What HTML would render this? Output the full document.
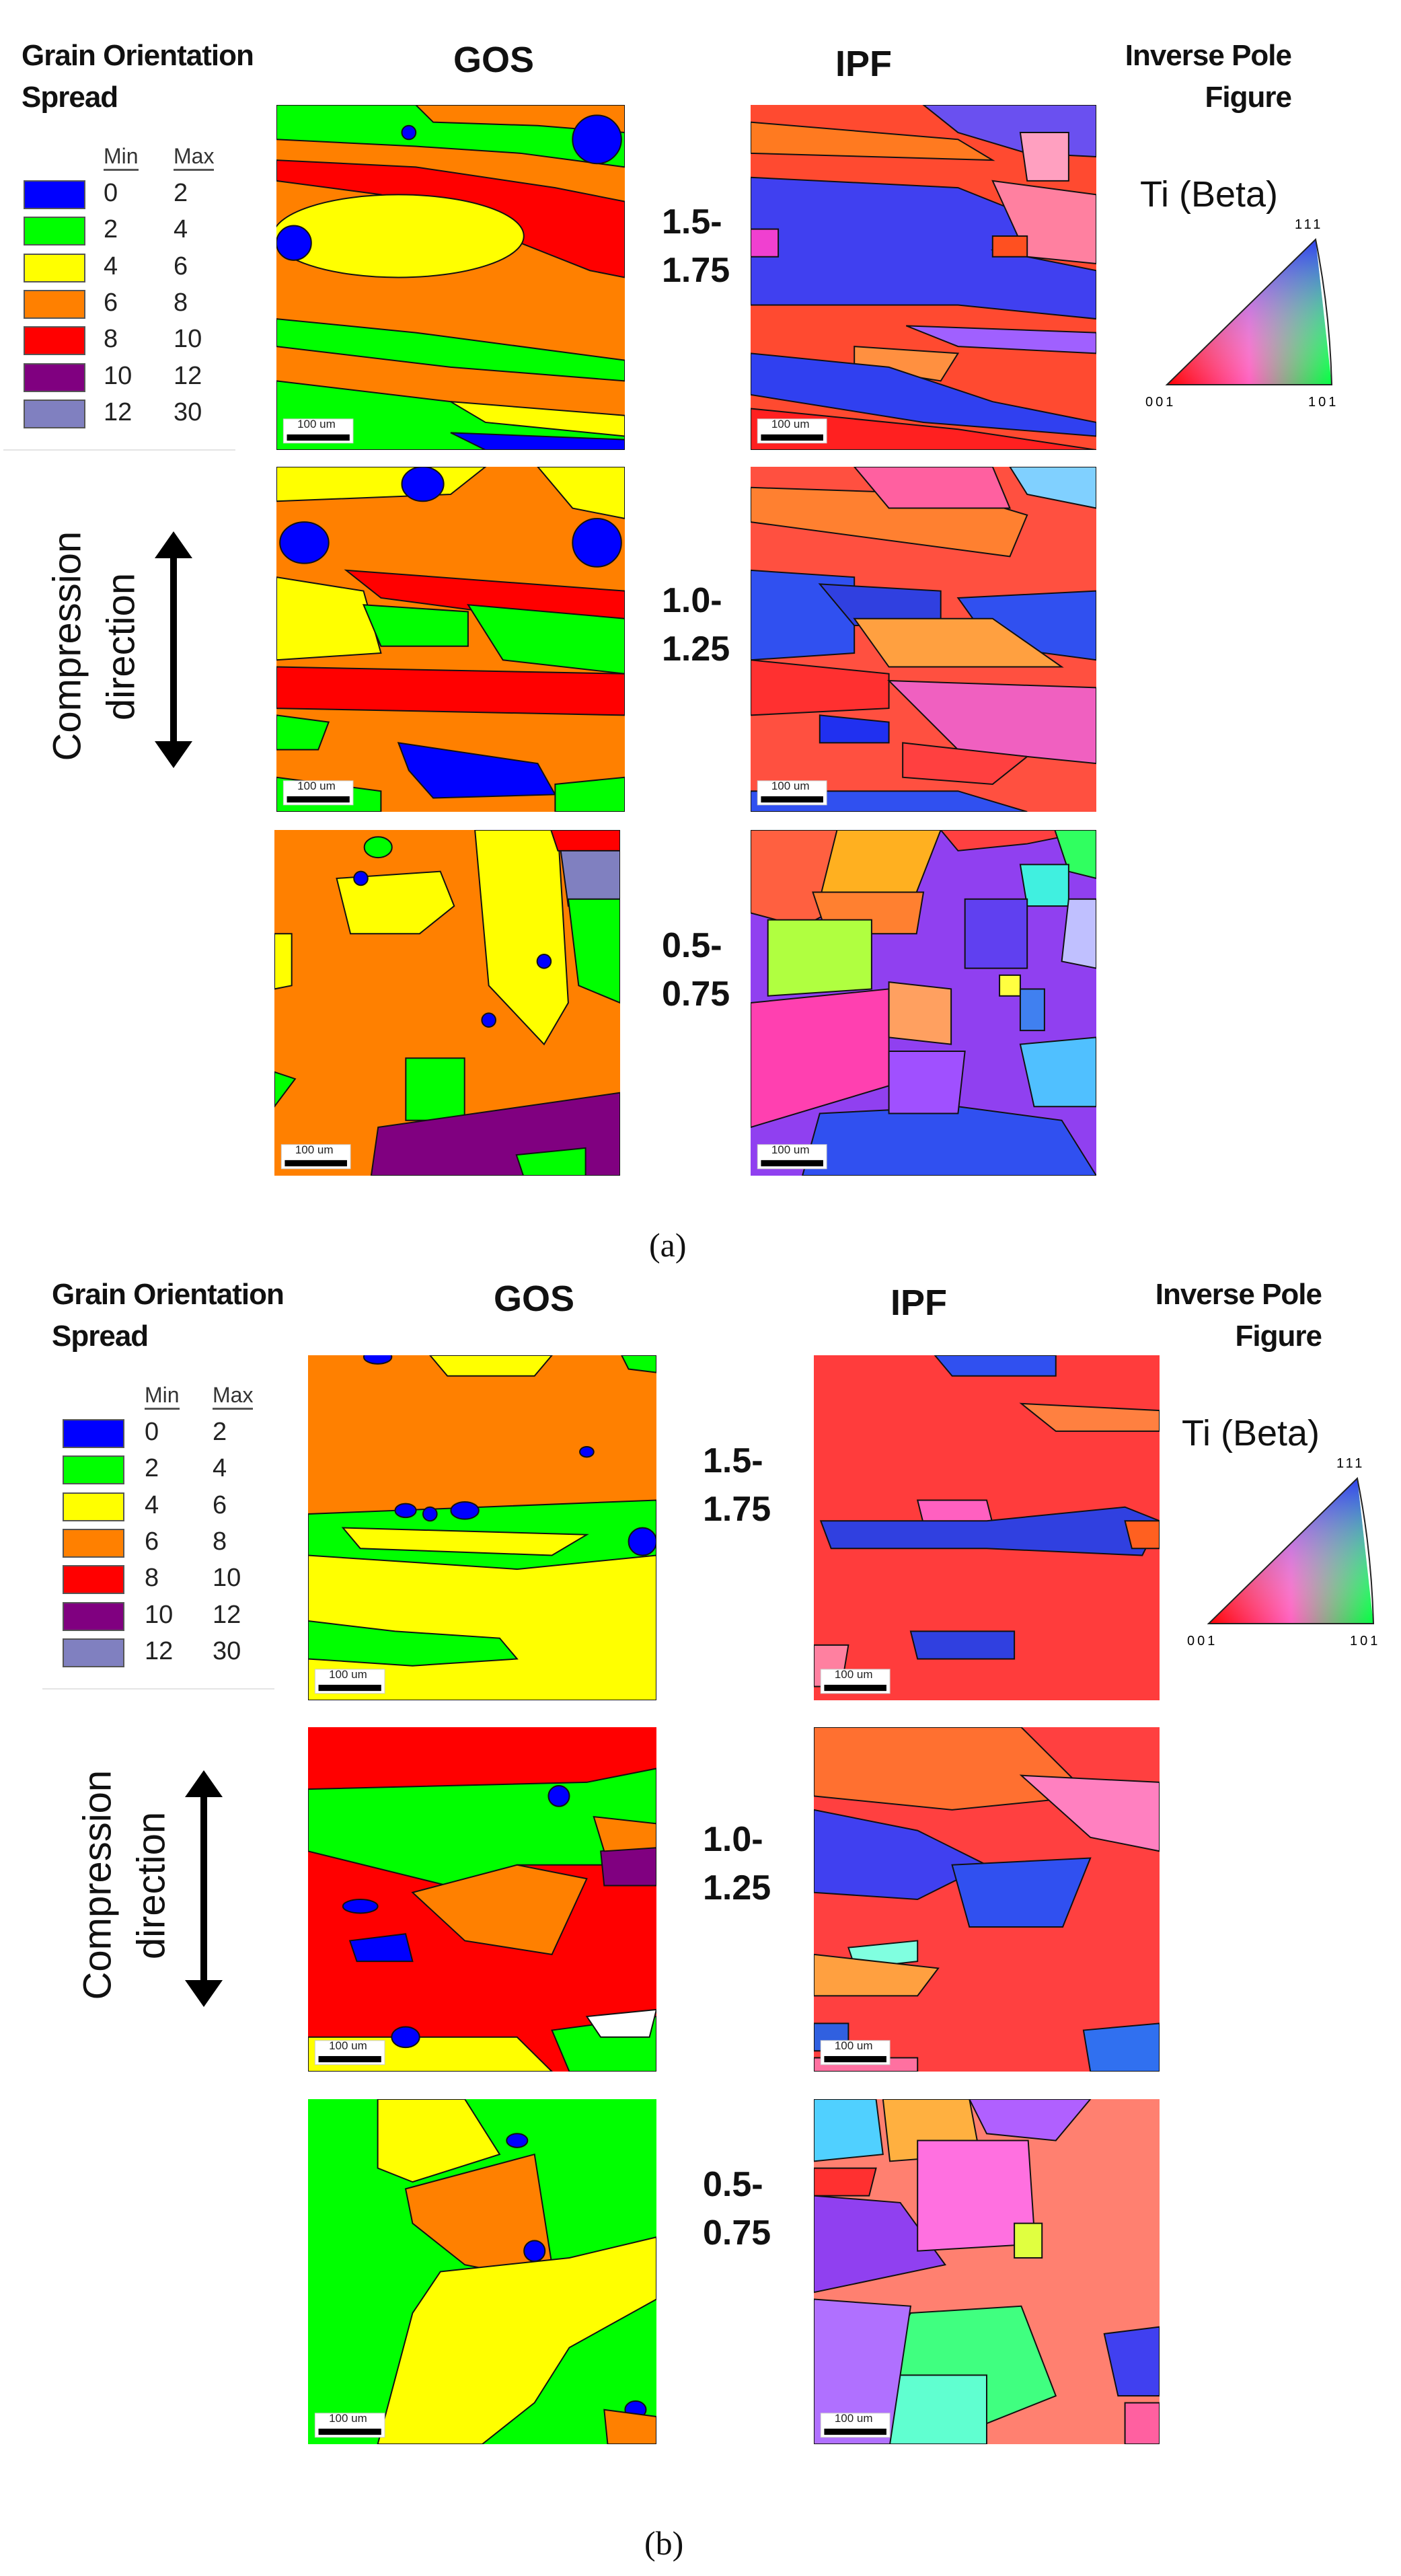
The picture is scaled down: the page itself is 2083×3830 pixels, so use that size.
<!DOCTYPE html>
<html><head><meta charset="utf-8">
<style>
html,body{margin:0;padding:0;background:#fff;}
body{width:2083px;height:3830px;position:relative;overflow:hidden;font-family:"Liberation Sans",sans-serif;}
.t{position:absolute;white-space:nowrap;color:#111;}
.b{font-weight:bold;}
svg.p{position:absolute;}
.sw{position:absolute;width:92px;height:43px;border:2px solid #555;box-sizing:border-box;}
.rot{position:absolute;transform:rotate(-90deg);transform-origin:center center;font-size:58px;white-space:nowrap;text-align:center;}
</style></head>
<body>
<div id="root"></div>
<script>
const panels = [
 {id:'a-gos-1',x:411,y:156,w:518,h:513,bg:'#ff8000',s:[
  ['#00ff00','0,0 100,0 100,18 70,14 40,12 0,10'],['#ff8000','40,0 100,0 100,8 75,6 45,5'],
  ['#ff0000','0,16 40,18 80,24 100,28 100,50 90,48 60,36 30,26 0,22'],
  ['e','#ffff00',35,38,36,12],['#00ff00','0,62 40,66 100,74 100,80 50,76 0,70'],
  ['#00ff00','0,80 50,86 100,92 100,100 0,100'],['#ffff00','50,86 100,90 100,96 60,92'],
  ['e','#0000ff',92,10,7,7],['e','#0000ff',5,40,5,5],['#0000ff','50,95 100,97 100,100 60,100'],['e','#0000ff',38,8,2,2]]},
 {id:'a-gos-2',x:411,y:694,w:518,h:513,bg:'#ff8000',s:[
  ['#ffff00','0,0 60,0 50,8 0,10'],['#ffff00','75,0 100,0 100,15 85,12'],['e','#0000ff',42,5,6,5],['e','#0000ff',92,22,7,7],
  ['e','#0000ff',8,22,7,6],['#ff0000','20,30 100,36 100,45 60,42 30,38'],['#ffff00','0,32 25,36 30,54 0,56'],
  ['#00ff00','25,40 55,42 55,52 30,52'],['#00ff00','55,40 100,44 100,60 65,56'],['#ff0000','0,58 100,60 100,72 0,70'],
  ['#00ff00','0,72 15,74 12,82 0,82'],['#0000ff','35,80 75,86 80,95 45,96 38,88'],['#00ff00','80,92 100,90 100,100 80,100'],['#00ff00','0,90 30,94 30,100 0,100']]},
 {id:'a-gos-3',x:408,y:1234,w:514,h:514,bg:'#ff8000',s:[
  ['#ffff00','58,0 82,0 85,50 78,62 62,45'],['#8080c0','82,0 100,0 100,20 85,22'],['#00ff00','85,20 100,20 100,50 88,45'],
  ['#ffff00','18,14 48,12 52,22 42,30 22,30'],['#00ff00','38,66 55,66 55,84 38,84'],['#800080','30,86 100,76 100,100 28,100'],
  ['#00ff00','70,94 90,92 90,100 72,100'],['#ffff00','0,30 5,30 5,45 0,46'],['#00ff00','0,70 6,72 0,80'],
  ['e','#0000ff',25,14,2,2],['e','#0000ff',62,55,2,2],['e','#0000ff',78,38,2,2],['e','#00ff00',30,5,4,3],['#ff0000','80,0 100,0 100,6 82,6']]},
 {id:'a-ipf-1',x:1116,y:156,w:514,h:513,bg:'#ff4a30',s:[
  ['#ff7a20','0,5 60,10 70,16 0,14'],['#6a50f0','50,0 100,0 100,15 80,14 60,8'],['#ffa0c0','78,8 92,8 92,22 80,22'],
  ['#4040f0','0,21 60,24 85,34 70,42 100,48 100,62 60,58 0,58'],['#f040d0','0,36 8,36 8,44 0,44'],['#ff80a0','70,22 100,26 100,46 80,44'],
  ['#ff5020','70,38 80,38 80,44 70,44'],['#a060ff','45,64 100,66 100,72 60,70'],['#ff9040','30,70 60,72 55,80 30,76'],
  ['#3040f0','0,72 40,76 70,86 100,92 100,96 50,92 0,84'],['#ff2020','0,88 60,94 100,100 0,100']]},
 {id:'a-ipf-2',x:1116,y:694,w:514,h:513,bg:'#ff5040',s:[
  ['#ff8030','0,6 60,8 80,14 75,26 0,16'],['#ff60a0','30,0 70,0 75,12 40,12'],['#80d0ff','75,0 100,0 100,12 80,8'],
  ['#3050f0','0,30 30,32 30,54 0,56'],['#3040e0','20,34 55,36 55,46 30,46'],['#3050f0','60,38 100,36 100,56 70,52'],
  ['#ffa040','30,44 70,44 90,58 40,58'],['#ff3030','0,56 40,60 40,70 0,72'],['#f060c0','40,62 100,64 100,86 60,82'],
  ['#2030f0','20,72 40,74 40,80 20,80'],['#ff4040','44,80 80,84 70,92 44,90'],['#3050f0','0,94 60,94 80,100 0,100']]},
 {id:'a-ipf-3',x:1116,y:1234,w:514,h:514,bg:'#9040f0',s:[
  ['#ff6040','0,0 25,0 30,20 15,28 0,24'],['#ffb020','25,0 55,0 48,18 20,20'],['#ff4040','55,0 100,0 80,4 60,6'],['#30ff60','88,0 100,0 100,14 92,12'],
  ['#40f0e0','78,10 92,10 92,22 80,22'],['#c0c0ff','92,20 100,20 100,40 90,38'],['#ff8030','18,18 50,18 48,30 22,30'],
  ['#b0ff40','5,26 35,26 35,46 5,48'],['#ff40b0','0,50 40,46 40,74 0,86'],['#ffa060','40,44 58,46 58,62 40,60'],
  ['#6040f0','62,20 80,20 80,40 62,40'],['#ffff40','72,42 78,42 78,48 72,48'],['#4080f0','78,46 85,46 85,58 78,58'],
  ['#3050f0','20,82 60,80 90,84 100,100 15,100'],['#50c0ff','78,62 100,60 100,80 82,80'],['#a050ff','40,64 62,64 60,82 40,82']]},
 {id:'b-gos-1',x:458,y:2015,w:518,h:513,bg:'#ff8000',s:[
  ['#ffff00','0,50 100,48 100,100 0,100'],['#00ff00','0,46 100,42 100,58 60,62 0,58'],['#ffff00','10,50 80,52 70,58 15,56'],
  ['#00ff00','0,77 25,80 55,82 60,88 30,90 0,88'],['#ffff00','35,0 70,0 65,6 40,6'],['#00ff00','90,0 100,0 100,5 92,4'],
  ['e','#0000ff',28,45,3,2],['e','#0000ff',45,45,4,2.5],['e','#0000ff',35,46,2,2],['e','#0000ff',96,54,4,4],['e','#0000ff',20,0.5,4,2],['e','#0000ff',80,28,2,1.5]]},
 {id:'b-gos-2',x:458,y:2568,w:518,h:512,bg:'#ff0000',s:[
  ['#00ff00','0,18 80,16 100,12 100,40 60,40 40,46 0,36'],['#ff8000','30,48 60,40 80,44 70,66 45,62'],['#800080','84,36 100,34 100,46 85,46'],
  ['#ff8000','82,26 100,28 100,35 85,36'],['e','#0000ff',15,52,5,2],['#0000ff','12,62 28,60 30,68 14,68'],['e','#0000ff',72,20,3,3],
  ['#ffff00','0,90 60,90 70,100 0,100'],['#00ff00','70,88 100,84 100,100 75,100'],['#ffffff','80,84 100,82 98,90 84,90'],['e','#0000ff',28,90,4,3]]},
 {id:'b-gos-3',x:458,y:3121,w:518,h:513,bg:'#00ff00',s:[
  ['#ffff00','20,0 45,0 55,16 30,24 20,20'],['#ff8000','28,26 65,16 70,48 55,50 45,48 30,36'],
  ['#ffff00','38,50 75,46 100,40 100,58 75,72 65,88 50,100 20,100 30,62'],['e','#0000ff',60,12,3,2],['e','#0000ff',65,44,3,3],
  ['e','#0000ff',94,90,3,2.5],['#ff8000','85,90 100,92 100,100 86,100']]},
 {id:'b-ipf-1',x:1210,y:2015,w:514,h:513,bg:'#ff3c3c',s:[
  ['#3050f0','35,0 70,0 70,6 40,6'],['#ff8040','60,14 100,16 100,22 70,22'],['#ff60c0','30,42 50,42 52,50 32,50'],
  ['#3040e0','2,48 50,48 90,44 100,48 95,58 50,56 5,56'],['#ff6020','90,48 100,48 100,56 92,56'],['#3040e0','28,80 58,80 58,88 30,88'],['#ff80a0','0,84 10,84 8,96 0,96']]},
 {id:'b-ipf-2',x:1210,y:2568,w:514,h:512,bg:'#ff4040',s:[
  ['#ff7030','0,0 60,0 80,20 40,24 0,20'],['#ff80c0','60,14 100,16 100,36 80,32'],['#4040f0','0,24 30,30 50,40 30,50 0,48'],
  ['#3050f0','40,40 80,38 72,58 45,58'],['#80ffe0','10,64 30,62 30,68 12,70'],['#ffa040','0,66 36,70 30,78 0,78'],
  ['#3060e0','0,86 10,86 10,94 0,94'],['#3070f0','78,88 100,86 100,100 80,100'],['#ff70a0','0,96 30,96 30,100 0,100']]},
 {id:'b-ipf-3',x:1210,y:3121,w:514,h:513,bg:'#ff8070',s:[
  ['#50d0ff','0,0 18,0 20,16 0,18'],['#ffb040','20,0 45,0 48,16 22,18'],['#b060ff','45,0 80,0 70,12 50,10'],
  ['#ff3030','0,20 18,20 16,28 0,28'],['#9040f0','0,28 25,30 38,48 0,56'],['#ff70e0','30,12 62,12 64,42 30,44'],
  ['#e0ff40','58,36 66,36 66,46 58,46'],['#40ff80','28,62 60,60 70,86 40,98 10,96'],['#60ffd0','20,80 50,80 50,100 20,100'],
  ['#b070ff','0,58 28,60 22,100 0,100'],['#4040f0','84,68 100,66 100,86 88,86'],['#ff60a0','90,88 100,88 100,100 90,100']]}
];
const legendMins = ['0','2','4','6','8','10','12'];
const legendMaxs = ['2','4','6','8','10','12','30'];
const legendColors = ['#0000ff','#00ff00','#ffff00','#ff8000','#ff0000','#800080','#8080c0'];
const rowLabels = [['1.5-','1.75'],['1.0-','1.25'],['0.5-','0.75']];

const root = document.getElementById('root');
const NS = 'http://www.w3.org/2000/svg';
function txt(cls, x, y, s, style, name){
  const d = document.createElement('div');
  d.className = 't ' + cls;
  d.style.cssText = 'left:'+x+'px;top:'+y+'px;' + style;
  d.textContent = s;
  
  
  root.appendChild(d);
  return d;
}
panels.forEach(p => {
  const svg = document.createElementNS(NS,'svg');
  
  
  svg.setAttribute('class','p');
  svg.setAttribute('viewBox','0 0 100 100');
  svg.setAttribute('preserveAspectRatio','none');
  svg.style.cssText = 'left:'+p.x+'px;top:'+p.y+'px;width:'+p.w+'px;height:'+p.h+'px;';
  let h = '<rect width="100" height="100" fill="'+p.bg+'"/>';
  p.s.forEach(sh => {
    if (sh[0]==='e') h += '<ellipse cx="'+sh[2]+'" cy="'+sh[3]+'" rx="'+sh[4]+'" ry="'+sh[5]+'" fill="'+sh[1]+'" stroke="#111" stroke-width="2" vector-effect="non-scaling-stroke"/>';
    else h += '<polygon points="'+sh[1]+'" fill="'+sh[0]+'" stroke="#111" stroke-width="2" vector-effect="non-scaling-stroke"/>';
  });
  h += '<rect x="2" y="91" width="20" height="7" fill="#fff" stroke="#ccc" stroke-width="1" vector-effect="non-scaling-stroke"/><rect x="3" y="95.5" width="18" height="1.8" fill="#000"/>';
  svg.innerHTML = h;
  root.appendChild(svg);
  txt('', p.x+0.06*p.w, p.y+0.91*p.h-2, '100 um', 'font-size:17px;color:#222;', 'scale-bar-label');
});

function section(dy, dx, pre, cols, legX, numX1, numX2, triX, labX){
  txt('b', 32+dx, dy+58, 'Grain Orientation', 'font-size:44px;letter-spacing:-1px;', pre+'legend-title');
  txt('b', 32+dx, dy+120, 'Spread', 'font-size:44px;letter-spacing:-1px;', pre+'legend-title-2');
  txt('b', cols[0], dy+58, 'GOS', 'font-size:54px;', pre+'gos-column-title');
  txt('b', cols[1], dy+64, 'IPF', 'font-size:54px;', pre+'ipf-column-title');
  const ip = txt('b', 0, dy+58, 'Inverse Pole', 'font-size:44px;letter-spacing:-1px;text-align:right;', pre+'ipf-title');
  ip.style.left='auto'; ip.style.right=(2083-1920-dx)+'px';
  const fg = txt('b', 0, dy+120, 'Figure', 'font-size:44px;letter-spacing:-1px;text-align:right;', pre+'ipf-title-2');
  fg.style.left='auto'; fg.style.right=(2083-1920-dx)+'px';
  txt('', numX1, dy+214, 'Min', 'font-size:32px;border-bottom:3px solid #555;color:#333;', pre+'legend-min-header');
  txt('', numX2, dy+214, 'Max', 'font-size:32px;border-bottom:3px solid #555;color:#333;', pre+'legend-max-header');
  for (let i=0;i<7;i++){
    const yy = dy + 268 + i*54.3;
    const s = document.createElement('div');
    s.className='sw';
    s.style.left = legX+'px'; s.style.top = yy+'px'; s.style.background = legendColors[i];
    
    
    root.appendChild(s);
    txt('', numX1, yy-2, legendMins[i], 'font-size:38px;color:#222;', pre+'legend-min-value');
    txt('', numX2, yy-2, legendMaxs[i], 'font-size:38px;color:#222;', pre+'legend-max-value');
  }
  const ln = document.createElement('div');
  ln.style.cssText='position:absolute;left:'+(legX-30)+'px;top:'+(dy+668)+'px;width:345px;height:2px;background:#e4e4e4;';
  
  
  root.appendChild(ln);
  const r1 = txt('rot', 0, 0, 'Compression', '', pre+'compression-label');
  r1.style.left = (100+dx-170)+'px'; r1.style.top=(dy+928)+'px'; r1.style.width='340px';
  const r2 = txt('rot', 0, 0, 'direction', '', pre+'direction-label');
  r2.style.left = (180+dx-170)+'px'; r2.style.top=(dy+928)+'px'; r2.style.width='340px';
  const ar = document.createElementNS(NS,'svg');
  
  
  ar.setAttribute('class','p');
  ar.style.cssText='left:'+(228+dx)+'px;top:'+(dy+790)+'px;width:60px;height:352px;';
  ar.innerHTML='<polygon points="30,0 58,40 2,40" fill="#000"/><rect x="25" y="38" width="10" height="276" fill="#000"/><polygon points="30,352 58,312 2,312" fill="#000"/>';
  root.appendChild(ar);
  rowLabels.forEach((rl,i)=>{
    const rows=[[330,402],[893,965],[1406,1478]];
    txt('b', labX, dy+rows[i][0]-30, rl[0], 'font-size:52px;', pre+'row-label');
    txt('b', labX, dy+rows[i][1]-30, rl[1], 'font-size:52px;', pre+'row-label-2');
  });
  txt('', triX-40, dy+258, 'Ti (Beta)', 'font-size:54px;', pre+'ti-beta-label');
  const tr = document.createElementNS(NS,'svg');
  
  
  tr.setAttribute('class','p');
  tr.style.cssText='left:'+(triX-40)+'px;top:'+(dy+320)+'px;width:320px;height:300px;';
  tr.innerHTML='<defs><linearGradient id="g1'+pre+'" x1="0" y1="0" x2="1" y2="0"><stop offset="0" stop-color="#ff0000"/><stop offset="0.5" stop-color="#ff60c0"/><stop offset="1" stop-color="#00ff40"/></linearGradient><linearGradient id="g2'+pre+'" x1="0" y1="1" x2="0" y2="0"><stop offset="0" stop-color="#fff" stop-opacity="0"/><stop offset="1" stop-color="#3030ff" stop-opacity="0.9"/></linearGradient></defs>'+
   '<polygon points="40,252 285,252 261,36" fill="url(#g1'+pre+')"/><polygon points="40,252 285,252 261,36" fill="url(#g2'+pre+')"/><path d="M40,252 L285,252 Q282,140 261,36 Z" fill="none" stroke="#222" stroke-width="2"/>'+
   '<text x="8" y="284" font-size="20" font-family="Liberation Sans" letter-spacing="4">001</text><text x="250" y="284" font-size="20" font-family="Liberation Sans" letter-spacing="4">101</text><text x="230" y="20" font-size="20" font-family="Liberation Sans" letter-spacing="4">111</text>';
  root.appendChild(tr);
}
section(0, 0, 'a-', [674,1242], 35, 154, 258, 1735, 984);
section(1842, 45, 'b-', [734,1324], 93, 215, 316, 1797, 1045);
txt('', 965, 1822, '(a)', 'font-family:"Liberation Serif",serif;font-size:50px;', 'caption-a');
txt('', 958, 3752, '(b)', 'font-family:"Liberation Serif",serif;font-size:50px;', 'caption-b');
</script>
</body></html>
